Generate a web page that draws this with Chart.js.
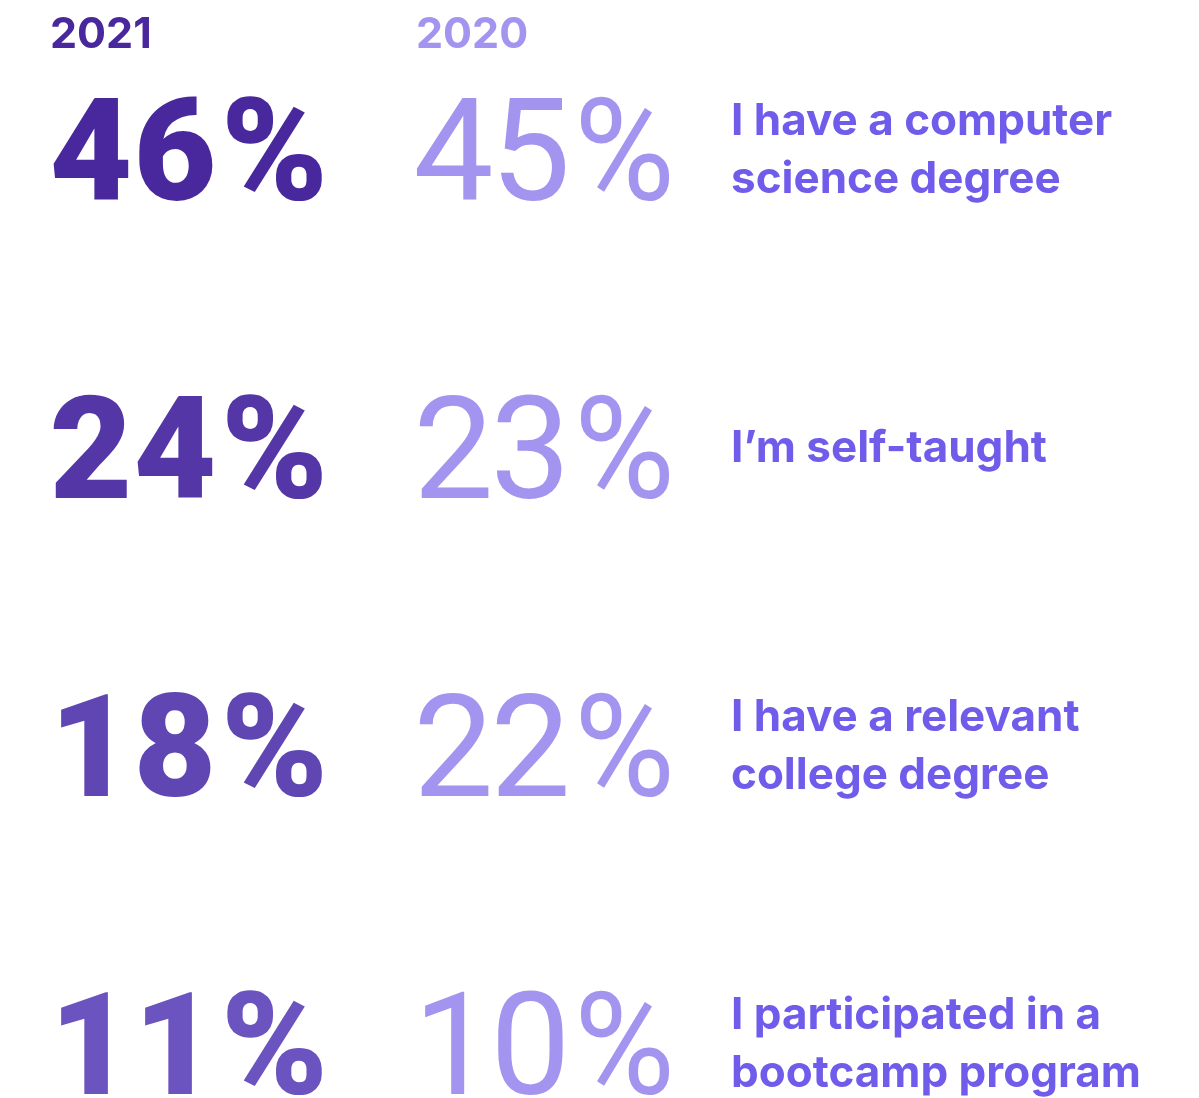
<!DOCTYPE html>
<html>
<head>
<meta charset="utf-8">
<script src="https://cdn.jsdelivr.net/npm/chart.js@4/dist/chart.umd.min.js"></script>
<style>
  html, body { margin: 0; padding: 0; background: #fff; }
  #wrap { width: 1199px; height: 1098px; }
</style>
</head>
<body>
<div id="wrap"><canvas id="stats"></canvas></div>
<script>
// survey answers, one row each
const categories = [
  ["I have a computer", "science degree"],
  ["I\u2019m self-taught"],
  ["I have a relevant", "college degree"],
  ["I participated in a", "bootcamp program"],
];
const years = ["2021", "2020"];
const values2021 = [46, 24, 18, 11];
const values2020 = [45, 23, 22, 10];

const colors2021 = ["#48289c", "#5436a6", "#6046b2", "#6c54c0"];
const color2020 = "#a394f0";
const labelColor = "#6f5ceb";

// how each number column is set (tabular digits, squeezed %)
const colStyle = [
  { font: "900 143px Roboto", adv: 84, gap: 4, pctW: 107 },
  { font: "400 143px Roboto", adv: 77, gap: 5, pctW: 101 },
];

function drawNumber(ctx, str, x, y, st) {
  ctx.font = st.font;
  ctx.textAlign = "center";
  const digits = str.split("");
  digits.forEach((d, k) => {
    ctx.fillText(d, x + st.adv * (k + 0.5), y);
  });
  const px = x + st.adv * digits.length + st.gap;
  const w = ctx.measureText("%").width;
  ctx.save();
  ctx.translate(px, y);
  ctx.scale(st.pctW / w, 1);
  ctx.textAlign = "left";
  ctx.fillText("%", 0, 0);
  ctx.restore();
}

// draws the numbers + labels at the point positions
const bigNumbers = {
  id: "bigNumbers",
  afterDatasetsDraw(chart) {
    const ctx = chart.ctx;
    const xs = chart.scales.x;
    ctx.save();
    ctx.textAlign = "left";
    ctx.textBaseline = "alphabetic";

    // year headers
    ctx.font = "700 43px Inter";
    years.forEach((yr, i) => {
      ctx.fillStyle = i == 0 ? colors2021[0] : color2020;
      ctx.fillText(yr, xs.getPixelForValue(i), chart.chartArea.top + 48);
    });

    chart.data.datasets.forEach((ds, di) => {
      const meta = chart.getDatasetMeta(di);
      meta.data.forEach((pt, i) => {
        const v = ds.data[i].v;
        ctx.fillStyle = di == 0 ? colors2021[i] : color2020;
        drawNumber(ctx, String(v), pt.x - 1, pt.y + 51, colStyle[di]);
      });
    });

    // labels to the right of the 2020 column
    const lx = xs.getPixelForValue(1) + 315;
    ctx.textAlign = "left";
    ctx.font = "700 44px Inter";
    ctx.fillStyle = labelColor;
    chart.getDatasetMeta(1).data.forEach((pt, i) => {
      const lines = categories[i];
      lines.forEach((ln, j) => {
        ctx.fillText(ln, lx, pt.y + 15 + (j - (lines.length - 1) / 2) * 58);
      });
    });
    ctx.restore();
  },
};

const ctx = document.getElementById("stats");
new Chart(ctx, {
  type: "scatter",
  data: {
    datasets: [
      {
        label: years[0],
        data: values2021.map((v, i) => ({ x: 0, y: i, v: v })),
        pointRadius: 0,
      },
      {
        label: years[1],
        data: values2020.map((v, i) => ({ x: 1, y: i, v: v })),
        pointRadius: 0,
      },
    ],
  },
  options: {
    responsive: true,
    maintainAspectRatio: false,
    animation: false,
    layout: { padding: 0 },
    plugins: { legend: { display: false }, tooltip: { enabled: false } },
    scales: {
      x: { type: "linear", display: false, min: -50 / 366, max: -50 / 366 + 1199 / 366 },
      y: { type: "linear", display: false, reverse: true, min: -0.5, max: -0.5 + 1098 / 298 },
    },
  },
  plugins: [bigNumbers],
});
</script>
</body>
</html>
